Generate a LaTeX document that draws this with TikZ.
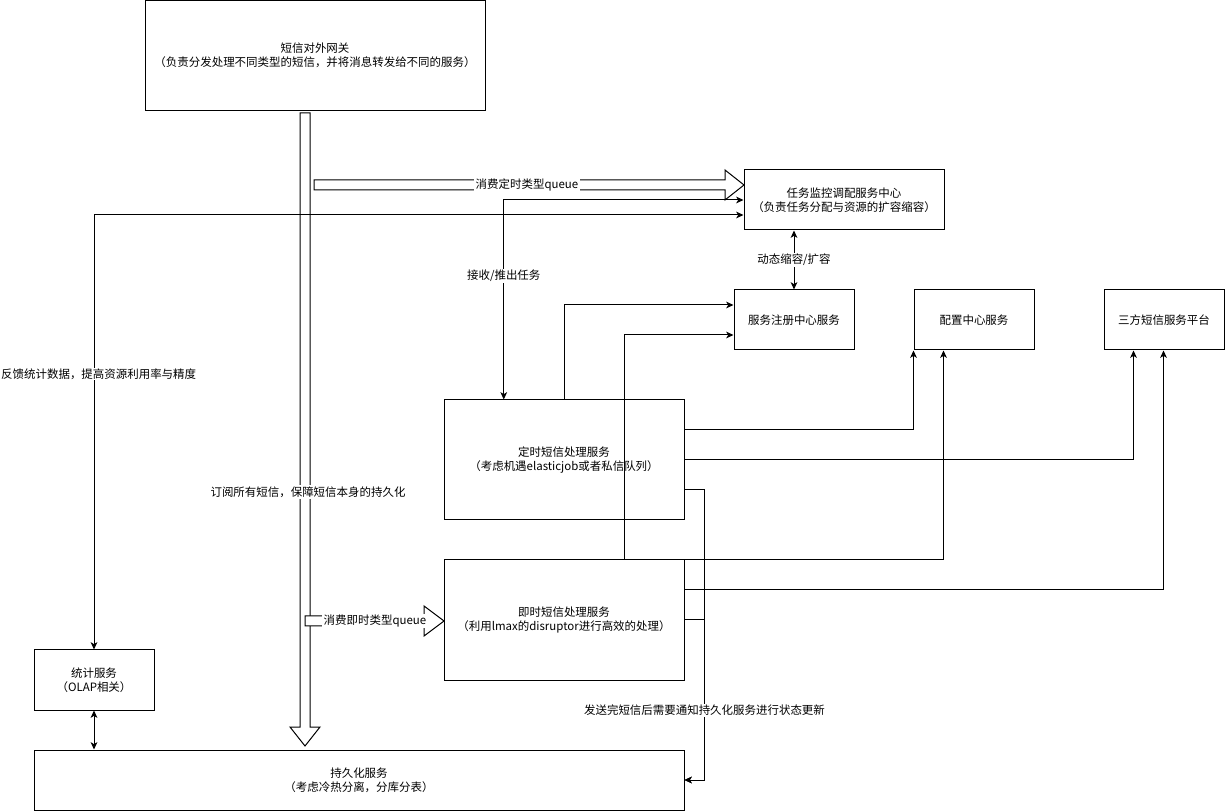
\documentclass[tikz,border=0pt]{standalone}
\usepackage{fontspec}
\setmainfont{Noto Sans CJK SC}
\usetikzlibrary{calc,arrows.meta}
\begin{document}
\begin{tikzpicture}[x=0.75pt,y=-0.75pt,line width=0.75pt,
  txt/.style={font=\fontsize{8.6pt}{10.2pt}\selectfont},
  box/.style={draw,fill=white,align=center,inner sep=0pt,txt},
  tip/.tip={Stealth[length=5.5pt,width=5pt,inset=1.5pt]},
  arr/.style={-tip},
  barr/.style={tip-tip},
  lbl/.style={fill=white,inner sep=1pt,txt},
  hollow/.style={draw,fill=white,line join=miter}]
\useasboundingbox (0,0) rectangle (1225,812);

% boxes
\node[box,minimum width=255pt,minimum height=82.5pt] (gw) at (315,55.5) {短信对外网关\\（负责分发处理不同类型的短信，并将消息转发给不同的服务）};
\node[box,minimum width=150pt,minimum height=45pt] (task) at (844,200) {任务监控调配服务中心\\（负责任务分配与资源的扩容缩容）};
\node[box,minimum width=90pt,minimum height=45pt] (reg) at (794,320) {服务注册中心服务};
\node[box,minimum width=90pt,minimum height=45pt] (cfg) at (974,320) {配置中心服务};
\node[box,minimum width=90pt,minimum height=45pt] (third) at (1164,320) {三方短信服务平台};
\node[box,minimum width=180pt,minimum height=90pt] (sched) at (564,460) {定时短信处理服务\\（考虑机遇elasticjob或者私信队列）};
\node[box,minimum width=180pt,minimum height=90pt] (inst) at (564,620) {即时短信处理服务\\（利用lmax的disruptor进行高效的处理）};
\node[box,minimum width=90pt,minimum height=45pt] (stats) at (94,680) {统计服务\\（OLAP相关）};
\node[box,minimum width=487.5pt,minimum height=45pt] (pers) at (359,780) {持久化服务\\（考虑冷热分离，分库分表）};

% hollow (block) arrows
\draw[hollow] (300,113) -- (310,113) -- (310,727) -- (320,727) -- (305,746) -- (290,727) -- (300,727) -- cycle;
\node[lbl] (l1) at (308,492) {订阅所有短信，保障短信本身的持久化};
\draw[hollow] (314,180) -- (725,180) -- (725,170) -- (744,185) -- (725,200) -- (725,190) -- (314,190) -- cycle;
\node[lbl] (l2) at (527,185) {消费定时类型queue};
\draw[hollow] (305,616) -- (424,616) -- (424,606) -- (444,621) -- (424,636) -- (424,626) -- (305,626) -- cycle;
\node[lbl] (l3) at (375,621) {消费即时类型queue};

% connectors
\coordinate (sq) at ($(sched.north west)!0.25!(sched.north east)$);
\draw[barr] (task.west) -| (sq) node[lbl,pos=0.69] {接收/推出任务};
\draw[barr] ($(task.west)+(0,15)$) -| (stats.north) node[lbl,pos=0.683,xshift=3.5pt,inner sep=0.5pt] {反馈统计数据，提高资源利用率与精度};
\draw[barr] (reg.north |- task.south) -- (reg.north) node[lbl,midway] {动态缩容/扩容};
\draw[arr] (sched.north) |- ($(reg.west)+(0,-15)$);
\draw[arr] ($(inst.north)+(60,0)$) |- ($(reg.west)+(0,15)$);
\draw[arr] ($(sched.east)+(0,-30)$) -| (cfg.south west);
\draw[arr] (sched.east) -| ($(third.south west)+(30,0)$);
\draw[arr] (inst.north east) -| ($(cfg.south west)+(30,0)$);
\draw[arr] ($(inst.east)+(0,-30)$) -| ($(third.south west)+(60,0)$);
\draw[arr] (inst.east) -- ++(20,0) |- (pers.east);
\draw[arr] ($(sched.east)+(0,30)$) -- ++(20,0) |- (pers.east) node[lbl,pos=0.38] {发送完短信后需要通知持久化服务进行状态更新};
\draw[barr] (stats.south) -- (stats.south |- pers.north);
\end{tikzpicture}
\end{document}
